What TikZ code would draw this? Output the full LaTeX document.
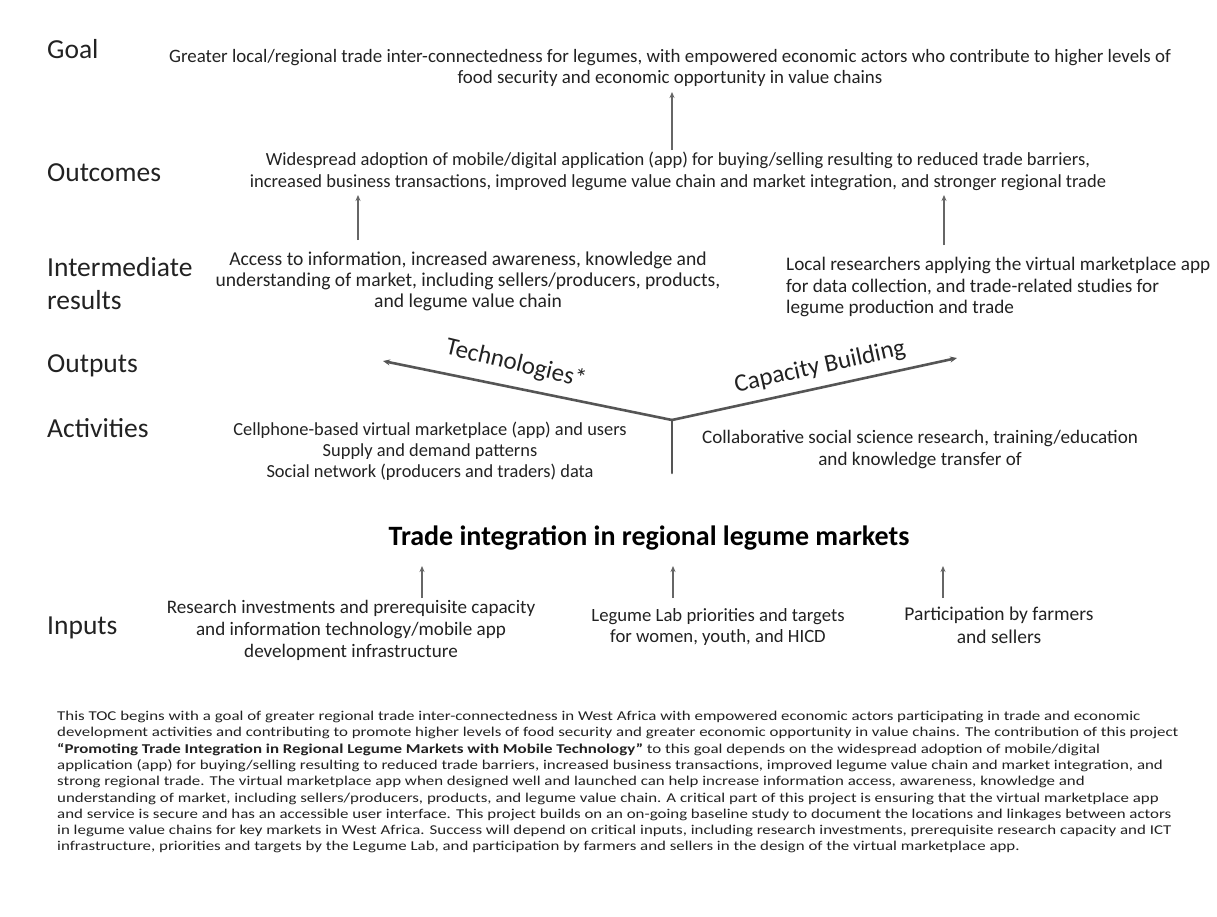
\documentclass[tikz,border=0pt]{standalone}
\usepackage{fontspec}
\setmainfont{Carlito}
\newfontfamily\widefont[FakeStretch=1.25]{Carlito}
\usetikzlibrary{arrows.meta}
\definecolor{ink}{HTML}{222222}
\definecolor{wire}{HTML}{666666}
\definecolor{vline}{HTML}{555555}
\newcommand{\fs}[2]{\fontsize{#1}{#2}\selectfont}
\begin{document}
\begin{tikzpicture}[x=1pt,y=-1pt,
  lvl/.style={anchor=west,inner sep=0pt,text=ink,font=\fs{27.5}{32}},
  body/.style={align=center,inner sep=0pt,text=ink},
  bodyl/.style={align=left,inner sep=0pt,text=ink},
  arr/.style={draw=wire,line width=1.6pt,-{Stealth[length=6pt,width=5pt]}},
  branch/.style={draw=vline,line width=2.6pt,line cap=round},
  branchtip/.style={branch,-{Stealth[length=7pt,width=6pt]}},
  tilt/.style={inner sep=0pt,text=ink,font=\fs{25}{30}},
  para/.style={anchor=north west,align=left,inner sep=0pt,text=ink,font=\widefont\fs{13.5}{16.3}}]
\useasboundingbox[fill=white] (0,0) rectangle (1217,916);

% level labels
\node[lvl] (lgoal) at (47,49) {Goal};
\node[lvl] (lout) at (47,173) {Outcomes};
\node[lvl] (lint) at (47,267) {Intermediate};
\node[lvl] (lres) at (47,300) {results};
\node[lvl] (loutp) at (47,366) {Outputs};
\node[lvl] (lact) at (47,428) {Activities};
\node[lvl] (linp) at (47,628) {Inputs};

% goal and outcomes
\node[body,font=\fs{18.9}{20.5}] (goal) at (670,68) {Greater local/regional trade inter-connectedness for legumes, with empowered economic actors who contribute to higher levels of\\food security and economic opportunity in value chains};
\node[body,font=\fs{18.5}{22}] (outc) at (678,171) {Widespread adoption of mobile/digital application (app) for buying/selling resulting to reduced trade barriers,\\increased business transactions, improved legume value chain and market integration, and stronger regional trade};

% intermediate results
\node[body,font=\fs{19.6}{21}] (ileft) at (468,281) {Access to information, increased awareness, knowledge and\\understanding of market, including sellers/producers, products,\\and legume value chain};
\node[bodyl,anchor=west,font=\fs{19.2}{21.5}] (iright) at (786,287) {Local researchers applying the virtual marketplace app\\for data collection,  and trade-related studies for\\legume production and trade};

% activities
\node[body,font=\fs{18.4}{21}] (aleft) at (430,451) {Cellphone-based virtual marketplace (app) and users\\Supply and demand patterns\\Social network (producers and traders) data};
\node[body,font=\fs{19.1}{22}] (aright) at (920,450) {Collaborative social science research, training/education\\and knowledge transfer of};

% project title and inputs
\node[inner sep=0pt,text=black,font=\fs{28}{32}\bfseries] (title) at (649,538) {Trade integration in regional legume markets};
\node[body,font=\fs{19.1}{22}] (inl) at (351,630) {Research investments and prerequisite capacity\\and information technology/mobile app\\development infrastructure};
\node[body,font=\fs{18.7}{21}] (inm) at (718,627) {Legume Lab priorities and targets\\for women, youth, and HICD};
\node[body,font=\fs{19.5}{23}] (inr) at (999,625) {Participation by farmers\\and sellers};

% outputs branches
\coordinate (fork) at (672,420);
\coordinate (techend) at (383,361);
\coordinate (capend) at (957,358);
\coordinate (stem) at (672,473);
\draw[branchtip] (fork) -- (techend);
\draw[branchtip] (fork) -- (capend);
\draw[branch] (stem) -- (fork);
\node[tilt,rotate=-13.5] (tech) at (516,364) {Technologies*};
\node[tilt,rotate=12.5] (cap) at (820,367) {Capacity Building};

% upward links between levels
\coordinate (g0) at (672,150);  \coordinate (g1) at (672,92);
\coordinate (l0) at (358,240);  \coordinate (l1) at (358,195);
\coordinate (r0) at (944,245);  \coordinate (r1) at (944,195);
\coordinate (p0) at (422,598);  \coordinate (p1) at (422,566);
\coordinate (q0) at (673,598);  \coordinate (q1) at (673,566);
\coordinate (s0) at (943,598);  \coordinate (s1) at (943,566);
\draw[arr] (g0) -- (g1);
\draw[arr] (l0) -- (l1);
\draw[arr] (r0) -- (r1);
\draw[arr] (p0) -- (p1);
\draw[arr] (q0) -- (q1);
\draw[arr] (s0) -- (s1);

% summary paragraph
\node[para] (summary) at (57,711) {This TOC begins with a goal of greater regional trade inter-connectedness  in West Africa with empowered  economic actors participating in trade and economic\\
development  activities and contributing  to promote  higher levels of food security and greater economic opportunity  in value chains. The contribution  of this project\\
\textbf{“Promoting Trade Integration in Regional Legume Markets with Mobile Technology”} to this goal depends on the widespread adoption of mobile/digital\\
application (app) for buying/selling resulting to reduced trade barriers, increased business transactions, improved legume value chain and market integration, and\\
strong regional trade. The virtual marketplace app when designed well and launched can help increase information  access, awareness, knowledge and\\
understanding  of market, including sellers/producers, products, and legume value chain. A critical part of this project is ensuring that the virtual marketplace app\\
and service is secure and has an accessible user interface. This project builds on an on-going baseline study to document the locations and linkages between actors\\
in legume value chains for key markets in West Africa. Success will depend on critical inputs, including research investments, prerequisite research capacity and ICT\\
infrastructure, priorities and targets by the Legume Lab, and participation by farmers and sellers in the design of the virtual marketplace app.};
\end{tikzpicture}
\end{document}
